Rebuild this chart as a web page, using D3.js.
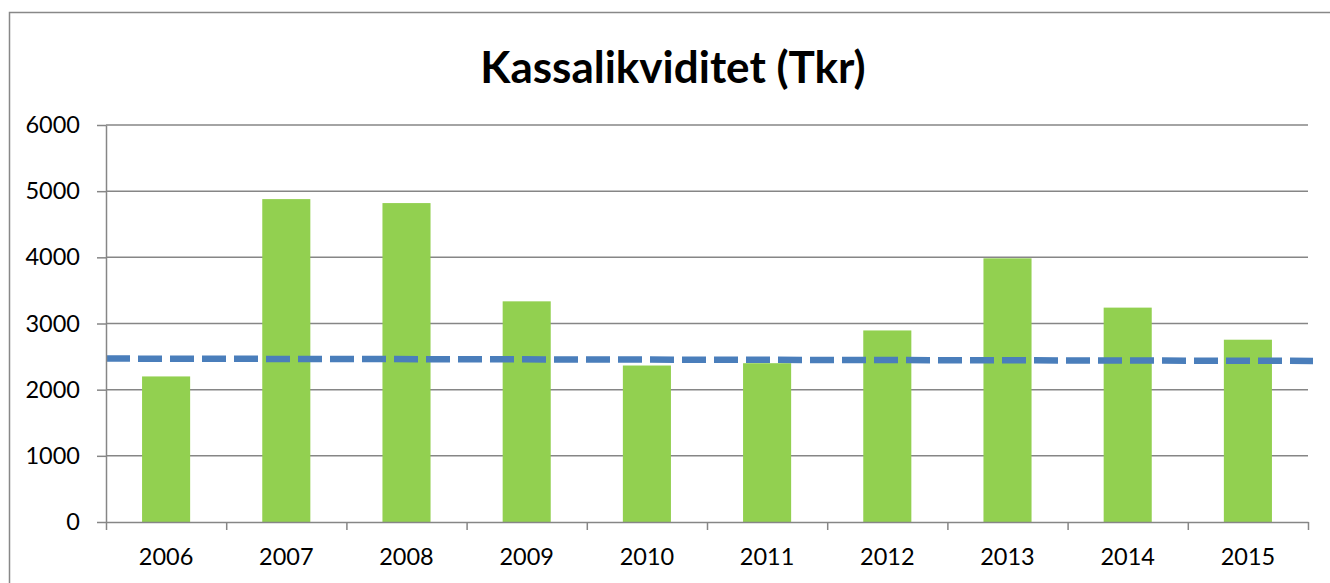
<!DOCTYPE html>
<html>
<head>
<meta charset="utf-8">
<script src="https://cdn.jsdelivr.net/npm/d3@7"></script>
<style>
  body { margin: 0; background: #fff; }
  svg { display: block; font-family: Lato, "Open Sans", sans-serif; }
  .axis text { font-size: 23.5px; font-family: Lato, "Open Sans", sans-serif; fill: #000; }
  .axis path, .axis line { stroke: #868686; stroke-width: 1.5; }
</style>
</head>
<body>
<svg id="chart"></svg>
<script>
// data
const years = ['2006', '2007', '2008', '2009', '2010', '2011', '2012', '2013', '2014', '2015']
const liquidity = [2200, 4880, 4820, 3335, 2365, 2400, 2895, 3985, 3240, 2755]
const refLine = [2470, 2435]   // dashed line, start and end of x range
const yTicks = [0, 1000, 2000, 3000, 4000, 5000, 6000]
const title = 'Kassalikviditet (Tkr)'

const width = 1330, height = 583
const margin = {top: 125, right: 22, bottom: 61, left: 106}
const innerW = width - margin.left - margin.right
const innerH = height - margin.top - margin.bottom

const svg = d3.select('#chart')
    .attr('width', width)
    .attr('height', height)

// outer chart frame
svg.append('rect')
    .attr('x', 9.5).attr('y', 12.5)
    .attr('width', width).attr('height', height)
    .attr('fill', 'none')
    .attr('stroke', '#888')
    .attr('stroke-width', 1.5)

svg.append('text')
    .attr('x', 673)
    .attr('y', 83)
    .attr('text-anchor', 'middle')
    .style('font-size', '44px')
    .style('font-weight', 'bold')
    .text(title)

const chart = svg.append('g')
    .attr('transform', `translate(${margin.left},${margin.top})`)

const xScale = d3.scaleBand()
    .domain(years)
    .range([0, innerW])
    .paddingInner(0.6)
    .paddingOuter(0.3)

const yScale = d3.scaleLinear()
    .domain([0, 6000])
    .range([innerH, 0])

// gridlines
chart.append('g')
    .selectAll('line')
    .data(yTicks.slice(1))
    .join('line')
        .attr('x1', 0)
        .attr('x2', innerW)
        .attr('y1', d => yScale(d))
        .attr('y2', d => yScale(d))
        .attr('stroke', '#868686')
        .attr('stroke-width', 1.5)

chart.selectAll('.bar')
    .data(liquidity)
    .join('rect')
        .attr('class', 'bar')
        .attr('fill', '#92d050')
        .attr('x', (d, i) => xScale(years[i]))
        .attr('width', xScale.bandwidth())
        .attr('y', d => yScale(d))
        .attr('height', d => innerH - yScale(d))

// dashed reference line across the whole plot
const xLine = d3.scaleLinear().domain([0, 1]).range([0, innerW + 5])
chart.append('path')
    .datum(refLine)
    .attr('fill', 'none')
    .attr('stroke', '#4a7ebb')
    .attr('stroke-width', 6.5)
    .attr('stroke-dasharray', '24 8')
    .attr('d', d3.line().x((d, i) => xLine(i)).y(d => yScale(d)))

// x axis: ticks between categories
const xAxisG = chart.append('g')
    .attr('class', 'axis x-axis')
    .attr('transform', `translate(0,${innerH})`)
const xEdge = d3.scaleLinear().domain([0, years.length]).range([0, innerW])
xAxisG.call(d3.axisBottom(xEdge).tickValues(d3.range(years.length + 1)).tickSize(8).tickSizeOuter(0).tickFormat(''))
xAxisG.selectAll('.label')
    .data(years)
    .join('text')
        .attr('class', 'label')
        .attr('x', d => xScale(d) + xScale.bandwidth() / 2)
        .attr('y', 43)
        .attr('text-anchor', 'middle')
        .text(d => d)

const yAxisG = chart.append('g')
    .attr('class', 'axis y-axis')
yAxisG.call(d3.axisLeft(yScale).tickValues(yTicks).tickSize(9).tickSizeOuter(0).tickPadding(17).tickFormat(d3.format('d')))
yAxisG.select('.domain').attr('stroke-width', 2)
</script>
</body>
</html>
